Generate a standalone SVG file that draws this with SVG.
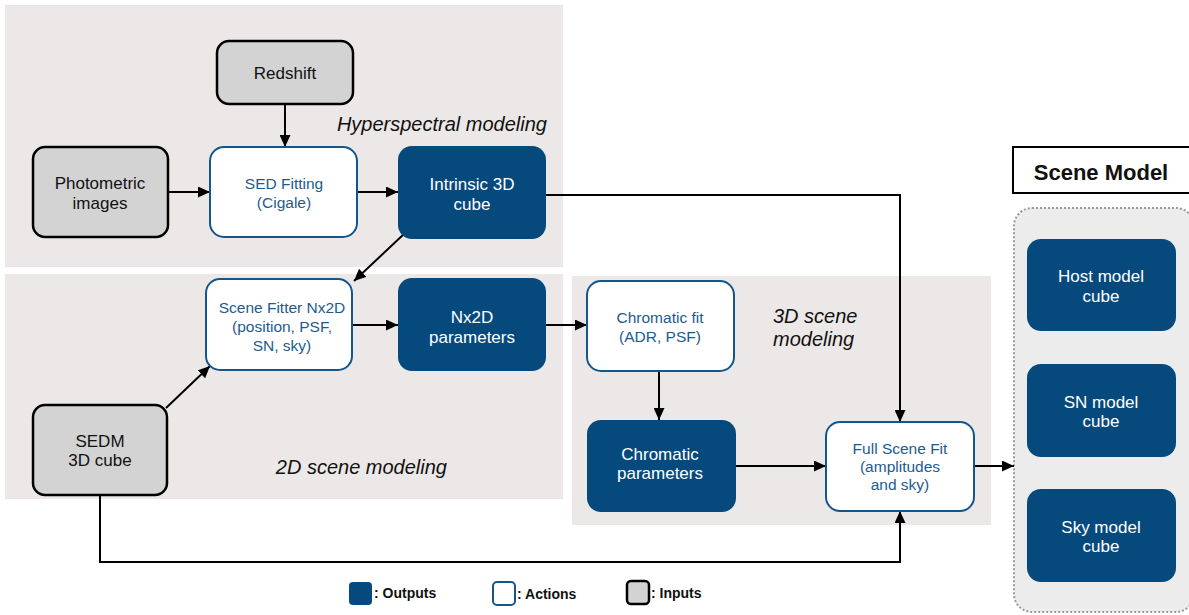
<svg xmlns="http://www.w3.org/2000/svg" width="1189" height="615" viewBox="0 0 1189 615">
<defs>
<marker id="arr" viewBox="0 0 12 11" refX="12" refY="5.5" markerWidth="12" markerHeight="11" markerUnits="userSpaceOnUse" orient="auto">
<path d="M0,0 L12,5.5 L0,11 Z" fill="#000"/>
</marker>
<style>
.panel{fill:#ece8e7}
.inp{fill:#d3d3d3;stroke:#000;stroke-width:2.5}
.act{fill:#fff;stroke:#14568c;stroke-width:2}
.out{fill:#064a7d}
.t{font-family:"Liberation Sans",Arial,sans-serif;text-anchor:middle}
.ti{font-size:17px;fill:#111}
.ta{font-size:15.5px;fill:#1d5b8f}
.to{font-size:17px;fill:#fff}
.lab{font-family:"Liberation Sans",Arial,sans-serif;font-style:italic;font-size:20px;fill:#111}
.leg{font-family:"Liberation Sans",Arial,sans-serif;font-weight:bold;font-size:14px;fill:#111}
.c{fill:none;stroke:#000;stroke-width:2}
</style>
</defs>
<rect width="1189" height="615" fill="#fff"/>
<g id="panels">
<rect class="panel" x="5" y="5" width="558" height="262"/>
<rect class="panel" x="5" y="274" width="558" height="225"/>
<rect class="panel" x="572" y="276" width="419" height="249"/>
<text class="lab" x="547" y="131" text-anchor="end">Hyperspectral modeling</text>
<text class="lab" x="447" y="474" text-anchor="end">2D scene modeling</text>
<text class="lab" x="773" y="323">3D scene</text>
<text class="lab" x="773" y="346">modeling</text>
</g>
<g id="scene-model-container">
<rect x="1014" y="208" width="180" height="404" rx="18" fill="#ececec" stroke="#9a9a9a" stroke-width="2" stroke-dasharray="2 2"/>
</g>
<g id="scene-model-title">
<rect x="1013" y="147" width="185" height="46" fill="#fff" stroke="#000" stroke-width="2"/>
<text x="1101" y="180" font-family="Liberation Sans,Arial,sans-serif" font-weight="bold" font-size="22" text-anchor="middle" fill="#111">Scene Model</text>
</g>
<g id="connectors">
<line class="c" x1="285" y1="104" x2="285" y2="147" marker-end="url(#arr)"/>
<line class="c" x1="168" y1="192" x2="210" y2="192" marker-end="url(#arr)"/>
<line class="c" x1="357" y1="192" x2="398" y2="192" marker-end="url(#arr)"/>
<polyline class="c" points="546,195 900,195 900,422" marker-end="url(#arr)"/>
<line class="c" x1="404" y1="234" x2="354" y2="281" marker-end="url(#arr)"/>
<line class="c" x1="166" y1="408" x2="210" y2="366" marker-end="url(#arr)"/>
<line class="c" x1="352" y1="325" x2="398" y2="325" marker-end="url(#arr)"/>
<line class="c" x1="546" y1="325" x2="587" y2="325" marker-end="url(#arr)"/>
<line class="c" x1="659" y1="371" x2="659" y2="420" marker-end="url(#arr)"/>
<line class="c" x1="736" y1="466" x2="826" y2="466" marker-end="url(#arr)"/>
<polyline class="c" points="100,495 100,562 900,562 900,511" marker-end="url(#arr)"/>
<line class="c" x1="974" y1="466" x2="1014" y2="466" marker-end="url(#arr)"/>
</g>
<g id="redshift">
<rect class="inp" x="217" y="41" width="136" height="63" rx="12"/>
<text class="t ti" x="285" y="79">Redshift</text>
</g>
<g id="photometric-images">
<rect class="inp" x="33" y="147" width="135" height="90" rx="12"/>
<text class="t ti" x="100" y="189">Photometric</text>
<text class="t ti" x="100" y="209">images</text>
</g>
<g id="sed-fitting">
<rect class="act" x="210" y="147" width="147" height="90" rx="14"/>
<text class="t ta" x="284" y="189">SED Fitting</text>
<text class="t ta" x="284" y="208">(Cigale)</text>
</g>
<g id="intrinsic-cube">
<rect class="out" x="398" y="146" width="148" height="93" rx="14"/>
<text class="t to" x="472" y="190">Intrinsic 3D</text>
<text class="t to" x="472" y="210">cube</text>
</g>
<g id="scene-fitter">
<rect class="act" x="206" y="279" width="146" height="91" rx="14"/>
<text class="t ta" x="282" y="313">Scene Fitter Nx2D</text>
<text class="t ta" x="282" y="332">(position, PSF,</text>
<text class="t ta" x="282" y="351">SN, sky)</text>
</g>
<g id="nx2d-parameters">
<rect class="out" x="398" y="278" width="148" height="93" rx="14"/>
<text class="t to" x="472" y="323">Nx2D</text>
<text class="t to" x="472" y="343">parameters</text>
</g>
<g id="sedm-cube">
<rect class="inp" x="33" y="405" width="134" height="90" rx="12"/>
<text class="t ti" x="100" y="447">SEDM</text>
<text class="t ti" x="100" y="466">3D cube</text>
</g>
<g id="chromatic-fit">
<rect class="act" x="587" y="281" width="147" height="90" rx="14"/>
<text class="t ta" x="660" y="323">Chromatic fit</text>
<text class="t ta" x="660" y="342">(ADR, PSF)</text>
</g>
<g id="chromatic-parameters">
<rect class="out" x="587" y="420" width="149" height="92" rx="14"/>
<text class="t to" x="660" y="460">Chromatic</text>
<text class="t to" x="660" y="479">parameters</text>
</g>
<g id="full-scene-fit">
<rect class="act" x="826" y="422" width="148" height="89" rx="14"/>
<text class="t ta" x="900" y="454">Full Scene Fit</text>
<text class="t ta" x="900" y="472">(amplitudes</text>
<text class="t ta" x="900" y="490">and sky)</text>
</g>
<g id="host-model-cube">
<rect class="out" x="1027" y="239" width="149" height="92" rx="14"/>
<text class="t to" x="1101" y="282">Host model</text>
<text class="t to" x="1101" y="302">cube</text>
</g>
<g id="sn-model-cube">
<rect class="out" x="1027" y="364" width="149" height="93" rx="14"/>
<text class="t to" x="1101" y="408">SN model</text>
<text class="t to" x="1101" y="427">cube</text>
</g>
<g id="sky-model-cube">
<rect class="out" x="1027" y="489" width="149" height="93" rx="14"/>
<text class="t to" x="1101" y="533">Sky model</text>
<text class="t to" x="1101" y="552">cube</text>
</g>
<g id="legend">
<rect class="out" x="349" y="582" width="23" height="23" rx="4"/>
<text class="leg" x="374" y="598">: Outputs</text>
<rect class="act" x="493" y="582" width="22" height="23" rx="4"/>
<text class="leg" x="517" y="599">: Actions</text>
<rect class="inp" x="627" y="581" width="22" height="23" rx="4"/>
<text class="leg" x="651" y="598">: Inputs</text>
</g>
</svg>
